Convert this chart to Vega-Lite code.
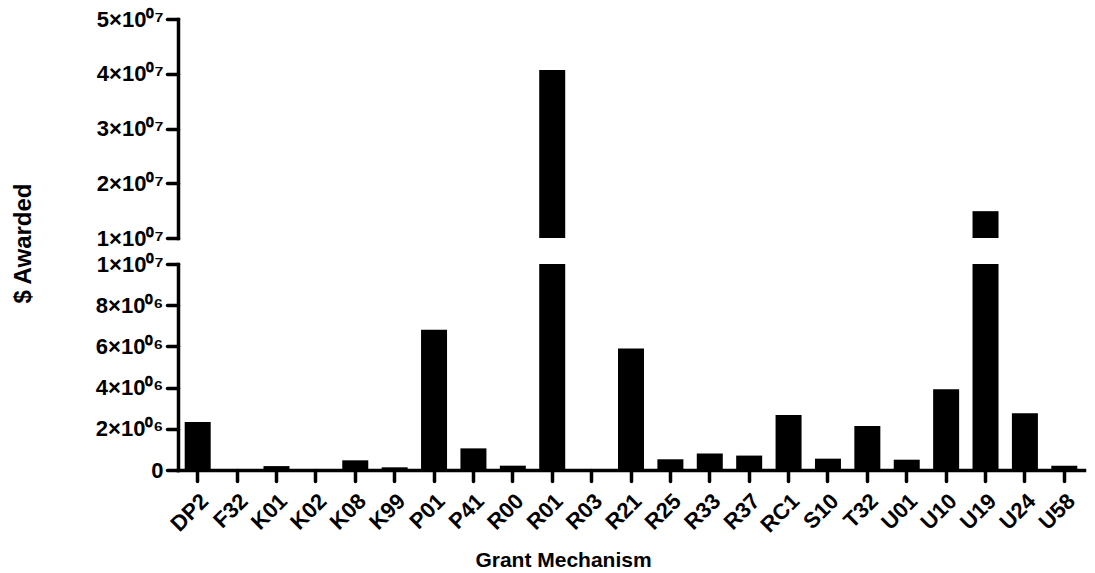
{
  "$schema": "https://vega.github.io/schema/vega-lite/v6.json",
  "autosize": {"type": "pad"},
  "padding": {"left": 11, "top": 8, "right": 5, "bottom": 0},
  "background": "white",
  "config": {
    "view": {"stroke": null},
    "font": "Liberation Sans",
    "axis": {
      "grid": false,
      "domainColor": "black",
      "domainWidth": 3.5,
      "domainCap": "square",
      "tickColor": "black",
      "tickWidth": 3.5,
      "tickCap": "round",
      "labelFont": "Liberation Sans",
      "labelFontWeight": "bold",
      "labelFontSize": 22,
      "labelColor": "black",
      "titleFont": "Liberation Sans",
      "titleFontWeight": "bold",
      "titleFontSize": 21,
      "titleColor": "black"
    }
  },
  "data": {
    "values": [
      {"mechanism": "DP2", "amount": 2330000},
      {"mechanism": "F32", "amount": 30000},
      {"mechanism": "K01", "amount": 190000},
      {"mechanism": "K02", "amount": 30000},
      {"mechanism": "K08", "amount": 470000},
      {"mechanism": "K99", "amount": 130000},
      {"mechanism": "P01", "amount": 6810000},
      {"mechanism": "P41", "amount": 1050000},
      {"mechanism": "R00", "amount": 210000},
      {"mechanism": "R01", "amount": 40700000},
      {"mechanism": "R03", "amount": 30000},
      {"mechanism": "R21", "amount": 5900000},
      {"mechanism": "R25", "amount": 520000},
      {"mechanism": "R33", "amount": 800000},
      {"mechanism": "R37", "amount": 700000},
      {"mechanism": "RC1", "amount": 2670000},
      {"mechanism": "S10", "amount": 550000},
      {"mechanism": "T32", "amount": 2140000},
      {"mechanism": "U01", "amount": 500000},
      {"mechanism": "U10", "amount": 3920000},
      {"mechanism": "U19", "amount": 14900000},
      {"mechanism": "U24", "amount": 2760000},
      {"mechanism": "U58", "amount": 210000}
    ]
  },
  "spacing": 26,
  "bounds": "flush",
  "vconcat": [
    {
      "width": 906,
      "height": 219,
      "mark": {"type": "bar", "color": "black"},
      "encoding": {
        "x": {
          "field": "mechanism",
          "type": "nominal",
          "sort": null,
          "axis": null,
          "scale": {"paddingInner": 0.34, "paddingOuter": 0.17}
        },
        "y": {
          "field": "amount",
          "type": "quantitative",
          "scale": {"domain": [10000000, 50000000], "nice": false, "zero": false, "clamp": true},
          "axis": {
            "title": "$ Awarded",
            "values": [10000000, 20000000, 30000000, 40000000, 50000000],
            "labelExpr": "format(datum.value / 1e7, 'd') + '×10⁰⁷'",
            "tickSize": 11,
            "labelPadding": 4,
            "titleFontSize": 24,
            "titleAngle": -90,
            "titleX": -155,
            "titleY": 224,
            "titleAlign": "center",
            "titleBaseline": "middle"
          }
        },
        "y2": {"datum": 10000000}
      }
    },
    {
      "width": 906,
      "height": 206,
      "mark": {"type": "bar", "color": "black"},
      "encoding": {
        "x": {
          "field": "mechanism",
          "type": "nominal",
          "sort": null,
          "scale": {"paddingInner": 0.34, "paddingOuter": 0.17},
          "axis": {
            "title": "Grant Mechanism",
            "labelAngle": -45,
            "labelAlign": "right",
            "labelBaseline": "top",
            "tickSize": 11,
            "labelPadding": 9,
            "titleX": 385,
            "titleY": 96,
            "titleAlign": "center",
            "titleBaseline": "alphabetic"
          }
        },
        "y": {
          "field": "amount",
          "type": "quantitative",
          "scale": {"domain": [0, 10000000], "nice": false, "clamp": true},
          "axis": {
            "title": null,
            "values": [0, 2000000, 4000000, 6000000, 8000000, 10000000],
            "labelExpr": "datum.value == 0 ? '0' : datum.value >= 1e7 ? '1×10⁰⁷' : format(datum.value / 1e6, 'd') + '×10⁰⁶'",
            "tickSize": 11,
            "labelPadding": 4
          }
        }
      }
    }
  ]
}
